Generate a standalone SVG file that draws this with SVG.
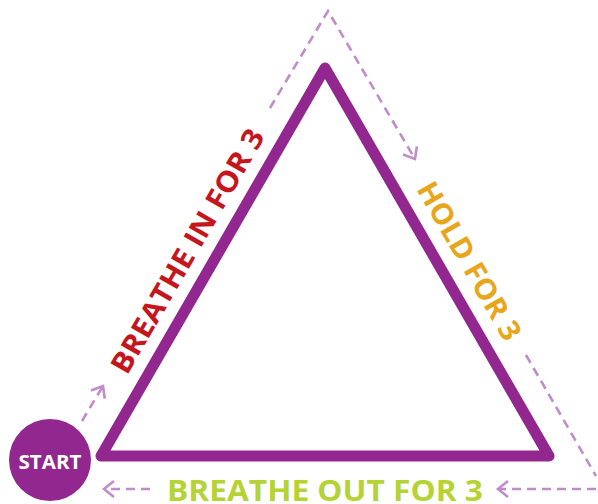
<svg xmlns="http://www.w3.org/2000/svg" width="598" height="504" viewBox="0 0 598 504">
<style>
.dash{fill:none;stroke:#c08dca;stroke-width:2.6;stroke-dasharray:9 6;}
.lbl{font-family:"Open Sans","Liberation Sans",sans-serif;font-weight:700;font-size:29px;}
</style>
<defs>
<marker id="chev" markerUnits="userSpaceOnUse" viewBox="-14 -10 16 20" refX="0" refY="0" markerWidth="16" markerHeight="20" orient="auto" overflow="visible">
<path d="M-10,-8 L0,0 L-10,8" fill="none" stroke="#c08dca" stroke-width="2.6" stroke-linejoin="miter"/>
</marker>
</defs>
<rect width="598" height="504" fill="#ffffff"/>
<g id="connectors">
<path class="dash" d="M82,421 L103,386" marker-end="url(#chev)"/>
<path class="dash" d="M270,108 L328,11 L415,159" marker-end="url(#chev)"/>
<path class="dash" d="M526,355 L596,476"/>
<path class="dash" d="M596,489 L498,489" marker-end="url(#chev)"/>
<path class="dash" d="M150,489 L104,489" marker-end="url(#chev)"/>
</g>
<g id="triangle">
<polygon points="101,456 325,68 549,456" fill="none" stroke="#92278f" stroke-width="11" stroke-linejoin="round"/>
</g>
<g id="start">
<circle cx="50" cy="460" r="41" fill="#92278f"/>
<text x="50" y="469" text-anchor="middle" font-family="'Open Sans','Liberation Sans',sans-serif" font-weight="700" font-size="20" fill="#ffffff" textLength="63" lengthAdjust="spacingAndGlyphs">START</text>
</g>
<g id="breathe-in">
<text class="lbl" fill="#c5161d" transform="translate(127,376) rotate(-60)" x="0" y="0" textLength="277" lengthAdjust="spacingAndGlyphs">BREATHE IN FOR 3</text>
</g>
<g id="hold">
<text class="lbl" fill="#e8a61b" transform="translate(416,189) rotate(60)" x="0" y="0" textLength="178" lengthAdjust="spacingAndGlyphs">HOLD FOR 3</text>
</g>
<g id="breathe-out">
<text class="lbl" fill="#b5d334" x="167" y="501" textLength="316" lengthAdjust="spacingAndGlyphs">BREATHE OUT FOR 3</text>
</g>
</svg>
